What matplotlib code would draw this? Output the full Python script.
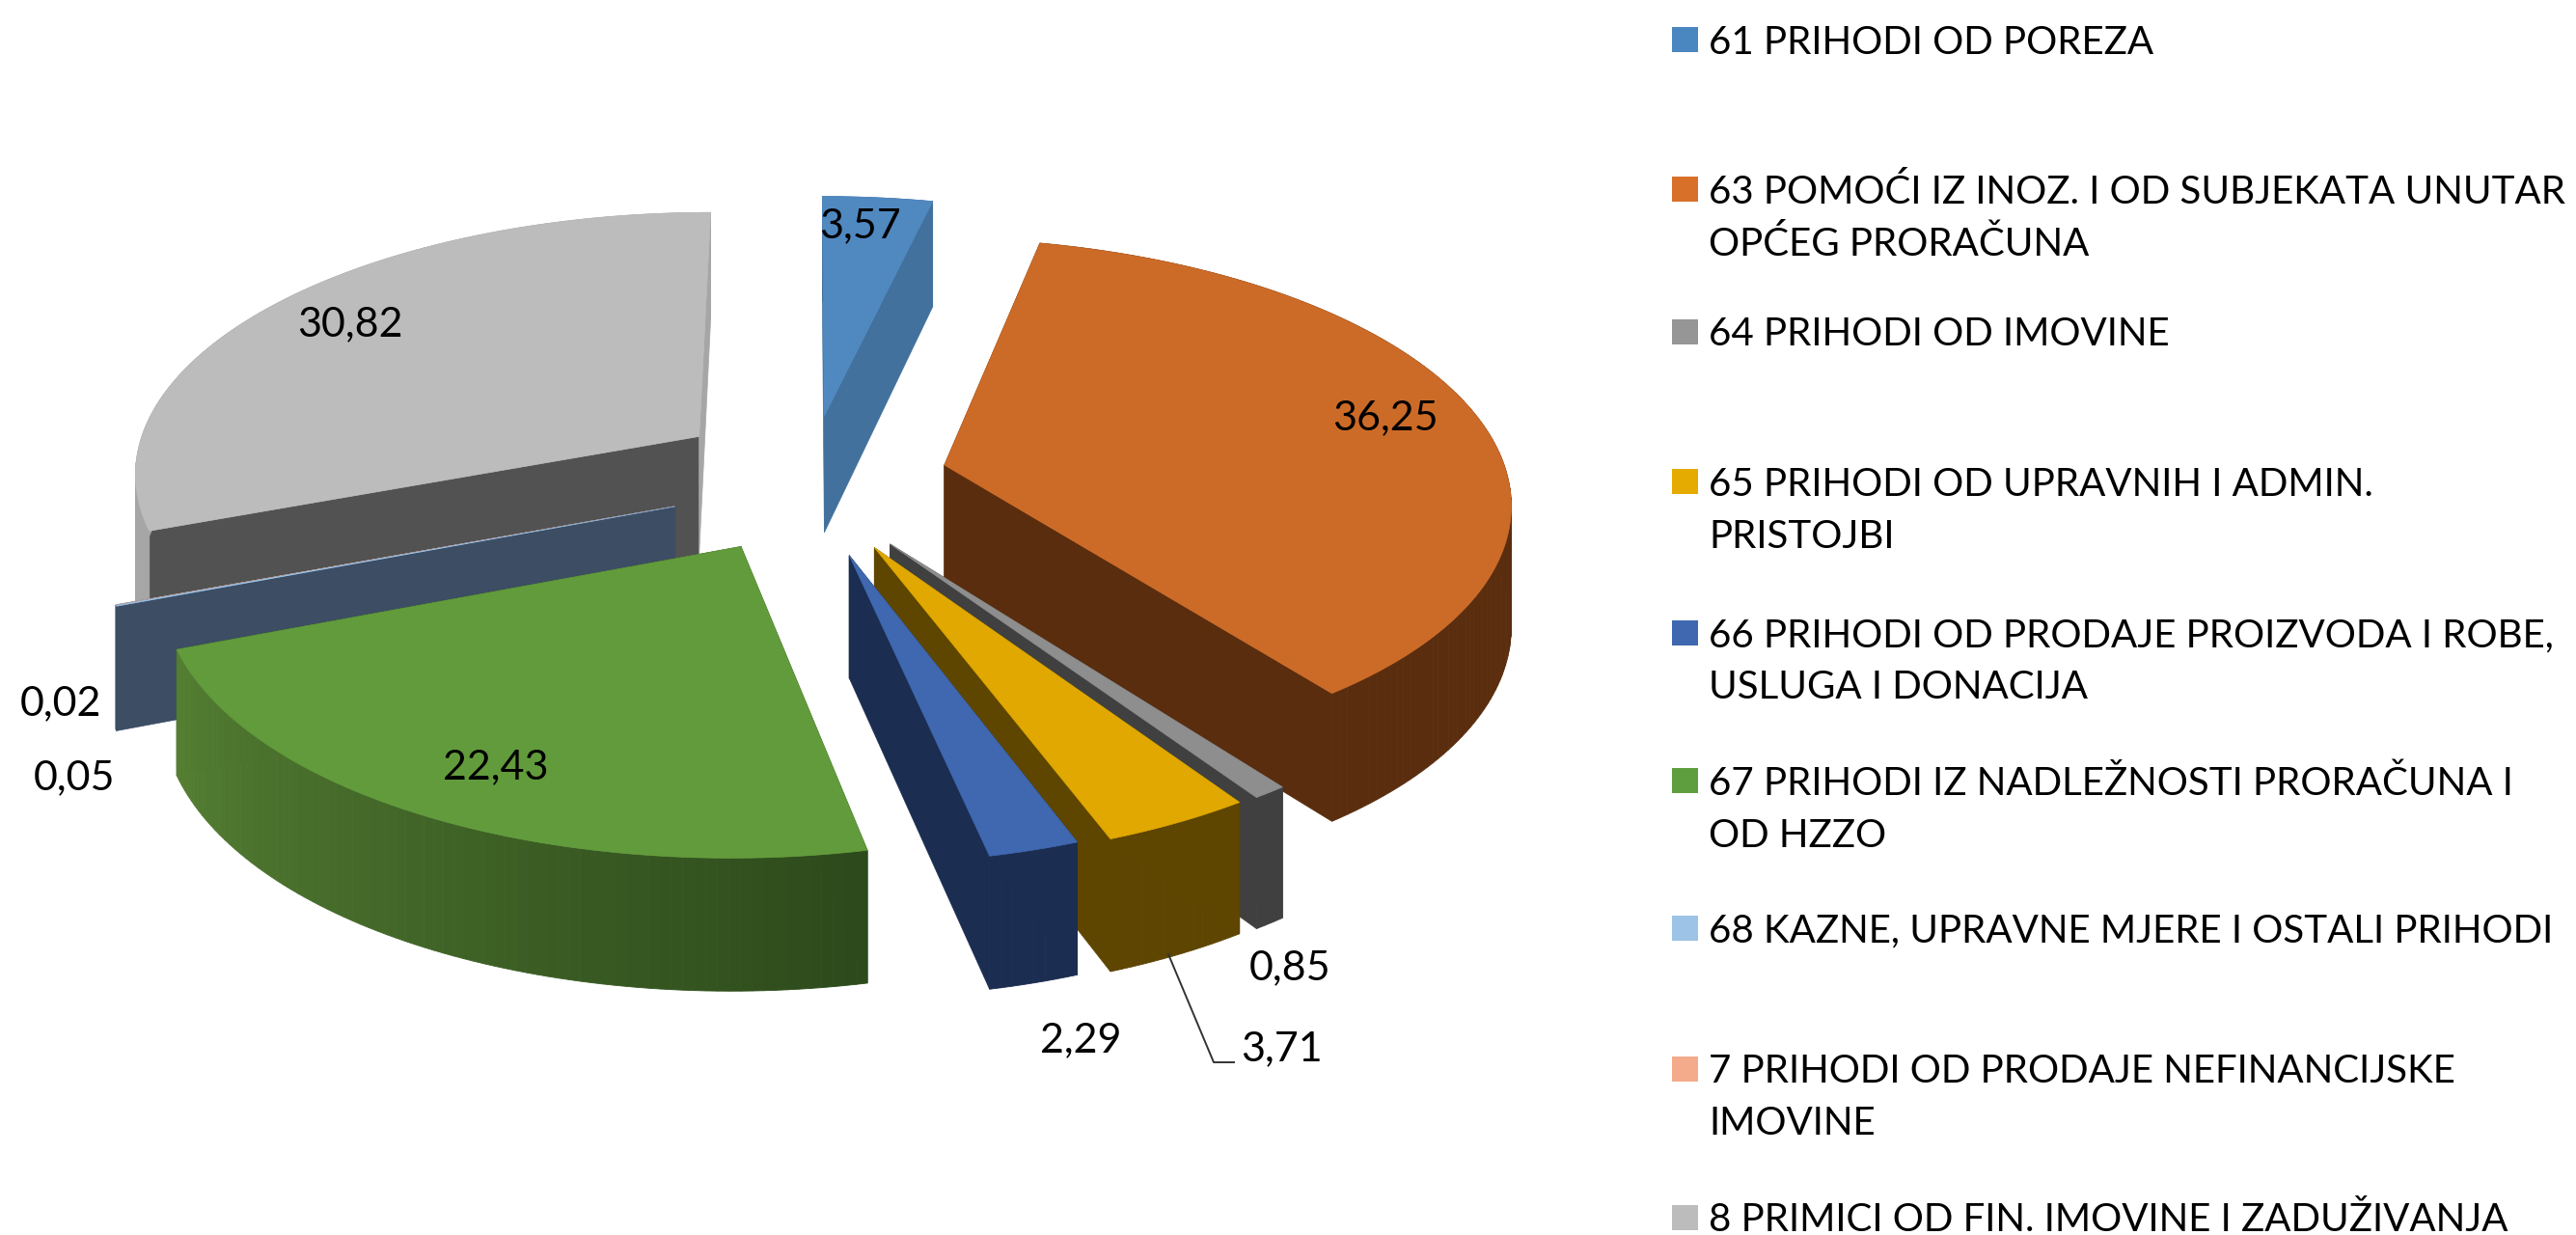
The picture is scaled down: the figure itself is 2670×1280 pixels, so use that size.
import numpy as np
import matplotlib
matplotlib.use("Agg")
import matplotlib.pyplot as plt
from matplotlib.colors import LinearSegmentedColormap
from matplotlib.patches import Rectangle

# === DATA ===
values = [3.57, 36.25, 0.85, 3.71, 2.29, 22.43, 0.05, 0.02, 30.82]
legend_labels = [
    "61 PRIHODI OD POREZA",
    "63 POMOĆI IZ INOZ. I OD SUBJEKATA UNUTAR\nOPĆEG PRORAČUNA",
    "64 PRIHODI OD IMOVINE",
    "65 PRIHODI OD UPRAVNIH I ADMIN.\nPRISTOJBI",
    "66 PRIHODI OD PRODAJE PROIZVODA I ROBE,\nUSLUGA I DONACIJA",
    "67 PRIHODI IZ NADLEŽNOSTI PRORAČUNA I\nOD HZZO",
    "68 KAZNE, UPRAVNE MJERE I OSTALI PRIHODI",
    "7 PRIHODI OD PRODAJE NEFINANCIJSKE\nIMOVINE",
    "8 PRIMICI OD FIN. IMOVINE I ZADUŽIVANJA",
]

# === STYLE ===
top_colors = ["#5088c0", "#cc6b27", "#8e8e8e", "#e0a800", "#3f68b0", "#629b3c", "#9dc3e6", "#f4a582", "#bcbcbc"]
legend_colors = ["#4a86c0", "#d9702a", "#969696", "#e5ab00", "#3f68b0", "#5f9e3f", "#9dc3e6", "#f4ab8c", "#bcbcbc"]
wall_start = ["#41719c", "#5a2d0e", "#404040", "#5e4500", "#1b2d50", "#557f33", "#3c4d64", "#3c4d64", "#a6a6a6"]
wall_end = ["#41719c", "#5a2d0e", "#404040", "#5e4500", "#1b2d50", "#2c4a1b", "#3c4d64", "#3c4d64", "#a6a6a6"]
cut_colors = ["#41719c", "#5a2d0e", "#404040", "#5e4500", "#1b2d50", "#2c4a1b", "#3c4d64", "#3c4d64", "#525252"]
explode = [0.27, 0.25, 0.26, 0.26, 0.27, 0.24, 0.25, 0.25, 0.22]
radius = [1.0, 0.98, 0.97, 0.97, 0.95, 0.97, 0.97, 0.97, 0.985]
# small per-slice shift in pixels
nudge = [(3, 0), (0, -6), (-3, 2), (0, 0), (0, 0), (4, 5), (6, -2), (6, -2), (-3, -16)]
draw_order = [8, 7, 6, 0, 1, 2, 3, 4, 5]

label_xy = [(892, 234), (1436, 433), (1337, 1003), (1328, 1087), (1120, 1078),
            (514, 795), (77, 806), (63, 729), (363, 336)]
legend_y = [41, 196, 344, 499, 656, 809, 962, 1108, 1262]

CX, CY = 834, 502
RX, RY = 596, 274
PERSP = 0.13
DEPTH = 124
FONT = "Lato"
FS_LEGEND = 29
FS_LABEL = 31

fig = plt.figure(figsize=(26.7, 12.8), dpi=100)
ax = fig.add_axes([0, 0, 1, 1])
ax.set_xlim(0, 2670)
ax.set_ylim(1280, 0)
ax.axis("off")


def project(u, v, z=0.0):
    # disc coordinates -> picture, with a bit of perspective; z=1 is the bottom face
    s = 1 / (1 + PERSP * v)
    x = CX + RX * u * s
    y = CY - RY * v * s + z * DEPTH * (1 - 0.095 * v)
    return x, y


# === Slices ===
edges = np.radians(np.concatenate([[0], np.cumsum(values)]) / sum(values) * 360)

for i in draw_order:
    a0, a1 = edges[i], edges[i + 1]
    mid = (a0 + a1) / 2
    u0 = explode[i] * np.sin(mid)
    v0 = explode[i] * np.cos(mid)
    t = np.linspace(a0, a1, max(int(np.degrees(a1 - a0)), 2) + 1)
    u = u0 + radius[i] * np.sin(t)
    v = v0 + radius[i] * np.cos(t)
    nx, ny = nudge[i]

    # cut faces
    for k in [0, -1]:
        px, py = project(np.array([u0, u[k], u[k], u0]), np.array([v0, v[k], v[k], v0]),
                         np.array([0, 0, 1, 1]))
        color = wall_start[i] if (i == 8 and k == -1) else cut_colors[i]
        ax.fill(px + nx, py + ny, color=color, lw=0.5)

    # outer wall, split up for the shading
    cmap = LinearSegmentedColormap.from_list("wall", [wall_start[i], wall_end[i]])
    for j in range(len(t) - 1):
        ub = np.array([u[j], u[j + 1], u[j + 1], u[j]])
        vb = np.array([v[j], v[j + 1], v[j + 1], v[j]])
        px, py = project(ub, vb, np.array([0, 0, 1, 1]))
        ax.fill(px + nx, py + ny, color=cmap(1 - j / max(len(t) - 2, 1)), lw=0.6)

    # top face
    px, py = project(np.r_[u0, u], np.r_[v0, v])
    ax.fill(px + nx, py + ny, color=top_colors[i], lw=0.5)

# === Labels ===
for val, (lx, ly) in zip(values, label_xy):
    ax.text(lx, ly, f"{val:.2f}".replace(".", ","), ha="center", va="center",
            family=FONT, fontsize=FS_LABEL, color="black")
ax.plot([1211, 1258, 1279], [989, 1101, 1101], color="#333333", lw=1.4)

# === Legend ===
for text, color, y in zip(legend_labels, legend_colors, legend_y):
    ax.add_patch(Rectangle((1733, y - 13), 27, 26, color=color, lw=0))
    lines = text.split("\n")
    for n, line in enumerate(lines):
        ax.text(1771, y + 3 + n * 54, line, ha="left", va="center",
                family=FONT, fontsize=FS_LEGEND, color="black")

plt.savefig("out.png", dpi=100)
